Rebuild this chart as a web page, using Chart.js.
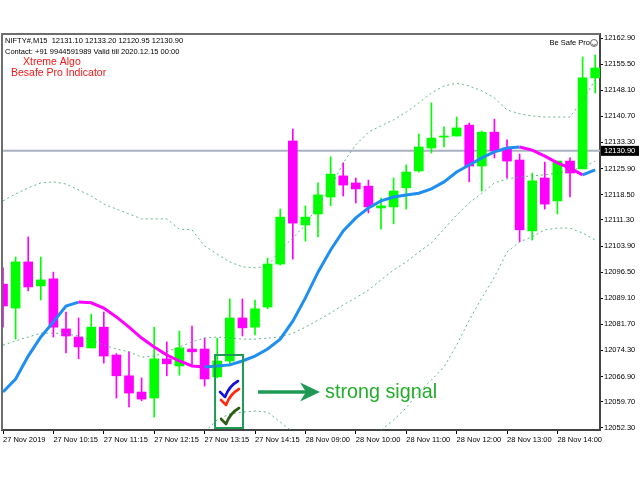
<!DOCTYPE html>
<html>
<head>
<meta charset="utf-8">
<script src="https://cdn.jsdelivr.net/npm/chart.js@4.4.1/dist/chart.umd.min.js"></script>
<style>
  html, body { margin: 0; padding: 0; background: #fff; }
</style>
</head>
<body>
<canvas id="chart" width="640" height="480"></canvas>
<script>
// ===== candles (NIFTY M15) =====
const opens  = [12093.1, 12086.3, 12099.4, 12092.6, 12094.6, 12080.4, 12078.1, 12075.0, 12080.9, 12073.0,
                12067.1, 12062.5, 12060.8, 12071.9, 12069.9, 12074.7, 12074.7, 12066.8, 12071.3, 12083.5,
                12080.9, 12086.6, 12098.8, 12133.7, 12109.9, 12113.0, 12117.8, 12123.8, 12121.8, 12120.9,
                12114.7, 12115.0, 12120.4, 12125.2, 12131.7, 12134.8, 12135.1, 12138.2, 12126.6, 12136.2,
                12131.7, 12128.3, 12108.2, 12123.2, 12116.7, 12128.0, 12125.8, 12151.6];
const highs  = [12097.7, 12100.8, 12106.5, 12100.8, 12096.5, 12085.2, 12083.5, 12084.6, 12085.2, 12073.4,
                12073.9, 12066.5, 12080.9, 12076.7, 12079.8, 12081.2, 12077.8, 12077.8, 12088.9, 12088.9,
                12088.6, 12100.5, 12114.4, 12137.1, 12115.3, 12121.8, 12129.2, 12127.5, 12123.2, 12122.6,
                12117.5, 12123.2, 12126.9, 12135.7, 12144.5, 12137.7, 12140.5, 12138.8, 12136.5, 12139.9,
                12134.0, 12130.0, 12124.6, 12127.7, 12128.0, 12128.9, 12157.5, 12158.1];
const lows   = [12080.9, 12077.5, 12091.2, 12088.6, 12078.1, 12073.6, 12071.9, 12075.0, 12070.7, 12060.8,
                12058.3, 12060.0, 12055.4, 12067.1, 12067.3, 12069.9, 12064.2, 12066.5, 12069.9, 12078.4,
                12078.7, 12086.1, 12098.5, 12100.2, 12105.3, 12106.5, 12115.3, 12118.1, 12116.1, 12113.3,
                12108.7, 12110.2, 12114.4, 12124.9, 12130.3, 12132.0, 12135.1, 12122.1, 12119.5, 12128.9,
                12123.2, 12105.1, 12105.6, 12114.4, 12113.0, 12117.8, 12125.8, 12147.3];
const closes = [12086.9, 12099.4, 12092.3, 12094.3, 12080.9, 12078.4, 12075.3, 12080.9, 12072.7, 12067.1,
                12062.2, 12060.5, 12071.9, 12070.5, 12075.0, 12073.9, 12066.2, 12071.3, 12083.5, 12080.7,
                12086.1, 12098.8, 12112.1, 12110.4, 12112.1, 12118.4, 12124.3, 12121.2, 12120.1, 12115.0,
                12115.3, 12119.5, 12124.9, 12132.0, 12134.5, 12135.1, 12137.4, 12126.6, 12136.2, 12130.9,
                12128.0, 12108.5, 12122.4, 12115.8, 12128.0, 12124.6, 12151.6, 12154.4];

// ===== indicator lines =====
const maLine     = [12062.5, 12066.2, 12072.7, 12078.1, 12082.4, 12086.9, 12088.0, 12087.8, 12086.3, 12083.8,
                    12080.9, 12077.8, 12075.3, 12073.0, 12071.3, 12069.9, 12069.6, 12069.9, 12070.2, 12071.3,
                    12072.7, 12074.7, 12077.5, 12082.6, 12089.2, 12096.5, 12102.8, 12108.2, 12111.9, 12114.7,
                    12116.7, 12117.8, 12118.4, 12118.9, 12120.1, 12122.1, 12124.9, 12126.9, 12128.9, 12130.6,
                    12131.7, 12132.0, 12131.1, 12129.4, 12127.5, 12126.0, 12124.1, 12125.5];
const bandUpper  = [12116.7, 12118.7, 12120.4, 12121.8, 12122.1, 12121.5, 12119.8, 12118.1, 12115.8, 12114.4,
                    12113.0, 12111.6, 12111.6, 12111.6, 12108.7, 12108.5, 12103.9, 12101.6, 12099.4, 12098.0,
                    12097.7, 12098.2, 12102.8, 12106.2, 12109.9, 12115.5, 12120.4, 12127.5, 12132.6, 12136.2,
                    12138.0, 12139.7, 12141.9, 12144.5, 12147.3, 12149.3, 12150.1, 12149.3, 12147.9, 12145.9,
                    12142.5, 12141.4, 12140.8, 12140.5, 12140.5, 12140.5, 12145.3, 12151.0];
const bandMiddle = [12075.8, 12077.0, 12078.1, 12079.2, 12079.2, 12079.0, 12078.4, 12077.3, 12075.8, 12074.7,
                    12073.9, 12072.4, 12072.7, 12073.9, 12075.3, 12076.7, 12077.8, 12078.1, 12077.8, 12077.5,
                    12077.5, 12077.8, 12078.1, 12079.2, 12080.9, 12082.9, 12084.9, 12087.2, 12089.2, 12091.4,
                    12094.3, 12097.1, 12099.4, 12102.2, 12104.8, 12108.7, 12112.7, 12116.1, 12118.9, 12121.8,
                    12122.9, 12123.5, 12123.8, 12124.1, 12124.6, 12125.2, 12126.3, 12128.0];
const bandLower  = [12035.0, 12035.3, 12035.9, 12036.7, 12036.4, 12036.4, 12037.0, 12036.4, 12035.9, 12035.0,
                    12034.7, 12033.3, 12033.9, 12036.1, 12041.8, 12044.9, 12051.2, 12054.6, 12056.3, 12056.8,
                    12057.1, 12056.8, 12054.0, 12051.2, 12048.9, 12047.5, 12047.5, 12048.3, 12049.5, 12050.3,
                    12051.7, 12054.6, 12058.0, 12062.5, 12065.9, 12069.6, 12075.8, 12082.9, 12089.2, 12095.1,
                    12102.2, 12105.1, 12106.5, 12108.5, 12109.0, 12109.0, 12107.6, 12105.6];

// ===== axes =====
const tickCandles = [0, 4, 8, 12, 16, 20, 24, 28, 32, 36, 40, 44];
const timeLabels  = ["27 Nov 2019", "27 Nov 10:15", "27 Nov 11:15", "27 Nov 12:15", "27 Nov 13:15", "27 Nov 14:15",
                     "28 Nov 09:00", "28 Nov 10:00", "28 Nov 11:00", "28 Nov 12:00", "28 Nov 13:00", "28 Nov 14:00"];
const priceTicks  = [12052.30, 12059.70, 12066.90, 12074.30, 12081.70, 12089.10, 12096.50, 12103.90,
                     12111.30, 12118.50, 12125.90, 12133.30, 12140.70, 12148.10, 12155.50, 12162.90];
const lastPrice   = 12130.90;
const headerOhlc  = [12131.10, 12133.20, 12120.95, 12130.90];

// signal marker (candle index / price)
const signalBox   = { from: 16.83, to: 19.05, top: 12073.0, bottom: 12052.3 };
const signalArrow = { from: 20.24, to: 25.16, at: 12062.5, text: 25.56 };

const BULL = "#00ff00";
const BEAR = "#ff00ff";
const MA_UP = "#1e8ff0";
const MA_DOWN = "#ff00ff";
const BAND = "rgba(70,170,115,0.85)";
const FONT = '"Liberation Sans", Arial, sans-serif';

const candleColors = opens.map((o, i) => closes[i] >= opens[i] ? BULL : BEAR);
const xy = (arr) => arr.map((v, i) => ({ x: i, y: v }));

function drawCheck(ctx, x0, y0, color) {
  ctx.strokeStyle = color;
  ctx.lineWidth = 2.6;
  ctx.lineCap = "round";
  ctx.lineJoin = "round";
  ctx.beginPath();
  ctx.moveTo(x0, y0);
  ctx.lineTo(x0 + 5, y0 + 5);
  ctx.quadraticCurveTo(x0 + 9, y0 - 6, x0 + 18, y0 - 11);
  ctx.stroke();
}

// ===== extras: price line, frame, texts, signal =====
const overlay = {
  id: "overlay",
  beforeDatasetsDraw(chart) {
    const { ctx, chartArea: a, scales: { y } } = chart;
    const py = y.getPixelForValue(lastPrice);
    ctx.save();
    ctx.strokeStyle = "#a9b1c0";
    ctx.lineWidth = 2;
    ctx.beginPath();
    ctx.moveTo(a.left, py);
    ctx.lineTo(a.right, py);
    ctx.stroke();
    ctx.restore();
  },
  afterDraw(chart) {
    const { ctx, chartArea: a, scales: { x, y } } = chart;
    ctx.save();

    // frame
    ctx.strokeStyle = "#6e6e6e";
    ctx.lineWidth = 2;
    ctx.beginPath();
    ctx.moveTo(a.left, a.bottom);
    ctx.lineTo(a.left, a.top);
    ctx.lineTo(a.right, a.top);
    ctx.stroke();

    // header
    ctx.textBaseline = "middle";
    ctx.textAlign = "left";
    ctx.fillStyle = "#000";
    ctx.font = "7.5px " + FONT;
    ctx.fillText("NIFTY#,M15  " + headerOhlc.map(v => v.toFixed(2)).join(" "), a.left + 3, a.top + 7);
    ctx.fillText("Contact: +91 9944591989 Valid till 2020.12.15 00:00", a.left + 3, a.top + 18);
    ctx.fillStyle = "#f01818";
    ctx.font = "10.5px " + FONT;
    ctx.fillText("Xtreme Algo", a.left + 21, a.top + 28);
    ctx.fillText("Besafe Pro Indicator", a.left + 9, a.top + 39);

    // Be Safe Pro
    ctx.fillStyle = "#000";
    ctx.font = "7.5px " + FONT;
    ctx.textAlign = "right";
    ctx.fillText("Be Safe Pro", a.right - 10, a.top + 9);
    ctx.strokeStyle = "#444";
    ctx.lineWidth = 0.8;
    ctx.beginPath();
    ctx.arc(a.right - 6, a.top + 9, 3.5, 0, Math.PI * 2);
    ctx.stroke();
    ctx.beginPath();
    ctx.arc(a.right - 6, a.top + 9.5, 1.8, 0.2, Math.PI - 0.2);
    ctx.stroke();

    // last price label
    const py = y.getPixelForValue(lastPrice);
    ctx.fillStyle = "#000";
    ctx.fillRect(a.right + 1, py - 5, 38, 10);
    ctx.fillStyle = "#fff";
    ctx.textAlign = "left";
    ctx.fillText(lastPrice.toFixed(2), a.right + 4, py + 0.5);

    // signal box
    const bx = x.getPixelForValue(signalBox.from);
    const bx2 = x.getPixelForValue(signalBox.to);
    const by = y.getPixelForValue(signalBox.top);
    const by2 = y.getPixelForValue(signalBox.bottom);
    ctx.strokeStyle = "#1e9a55";
    ctx.lineWidth = 2;
    ctx.strokeRect(bx, by, bx2 - bx, by2 - by);

    drawCheck(ctx, bx + 5, by + 37, "#1414d8");
    drawCheck(ctx, bx + 6, by + 45, "#ff2a10");
    drawCheck(ctx, bx + 6, by + 64, "#2a5e12");

    // arrow
    const ax = x.getPixelForValue(signalArrow.from);
    const ax2 = x.getPixelForValue(signalArrow.to);
    const ay = y.getPixelForValue(signalArrow.at);
    ctx.strokeStyle = "#1e9a55";
    ctx.fillStyle = "#1e9a55";
    ctx.lineWidth = 3.5;
    ctx.lineCap = "butt";
    ctx.beginPath();
    ctx.moveTo(ax, ay);
    ctx.lineTo(ax2 - 12, ay);
    ctx.stroke();
    ctx.beginPath();
    ctx.moveTo(ax2, ay);
    ctx.lineTo(ax2 - 20, ay - 9.5);
    ctx.lineTo(ax2 - 14, ay);
    ctx.lineTo(ax2 - 20, ay + 9.5);
    ctx.closePath();
    ctx.fill();

    // text
    const tx = x.getPixelForValue(signalArrow.text);
    ctx.font = "21px " + FONT;
    ctx.fillStyle = "#22ad2a";
    ctx.textAlign = "left";
    const label = "strong signal";
    const w = ctx.measureText(label).width;
    ctx.translate(tx, ay);
    ctx.scale(112 / w, 1);
    ctx.fillText(label, 0, 0);

    ctx.restore();
  }
};

const ctx = document.getElementById("chart").getContext("2d");

new Chart(ctx, {
  type: "bar",
  data: {
    datasets: [
      { type: "line", data: xy(maLine), borderWidth: 3, pointRadius: 0, tension: 0, order: -1,
        borderColor: MA_UP,
        segment: { borderColor: c => c.p1.parsed.y >= c.p0.parsed.y ? MA_UP : MA_DOWN } },
      { type: "line", data: xy(bandUpper), borderColor: BAND, borderWidth: 1, borderDash: [2, 3], pointRadius: 0, tension: 0, order: 0 },
      { type: "line", data: xy(bandMiddle), borderColor: BAND, borderWidth: 1, borderDash: [2, 3], pointRadius: 0, tension: 0, order: 0 },
      { type: "line", data: xy(bandLower), borderColor: BAND, borderWidth: 1, borderDash: [2, 3], pointRadius: 0, tension: 0, order: 0 },
      { type: "bar", data: opens.map((o, i) => ({ x: i, y: [o, closes[i]] })),
        backgroundColor: candleColors, barThickness: 9, grouped: false, minBarLength: 1, order: 2 },
      { type: "bar", data: lows.map((l, i) => ({ x: i, y: [l, highs[i]] })),
        backgroundColor: candleColors, barThickness: 1, grouped: false, order: 3 }
    ]
  },
  options: {
    responsive: false,
    animation: false,
    layout: { padding: { left: 2, top: 34, right: 0, bottom: 0 } },
    plugins: { legend: { display: false }, tooltip: { enabled: false } },
    scales: {
      x: {
        type: "linear",
        min: -0.08,
        max: 47.38,
        offset: false,
        grid: { drawOnChartArea: false, drawTicks: true, tickLength: 4, color: "#000", offset: false },
        border: { display: true, color: "#444", width: 2 },
        afterBuildTicks: s => { s.ticks = tickCandles.map(v => ({ value: v })); },
        afterFit: s => { s.height = 50; },
        ticks: {
          autoSkip: false, maxRotation: 0, align: "start", padding: 1, color: "#000",
          font: { family: FONT, size: 7.5 },
          callback: v => timeLabels[tickCandles.indexOf(v)]
        }
      },
      y: {
        position: "right",
        min: 12051.73,
        max: 12164.04,
        grid: { drawOnChartArea: false, drawTicks: true, tickLength: 3, color: "#000" },
        border: { display: true, color: "#444", width: 2 },
        afterBuildTicks: s => { s.ticks = priceTicks.map(v => ({ value: v })); },
        afterFit: s => { s.width = 40; },
        ticks: {
          autoSkip: false, padding: 1, color: "#000",
          font: { family: FONT, size: 7.5 },
          callback: v => v.toFixed(2)
        }
      }
    }
  },
  plugins: [overlay]
});
</script>
</body>
</html>
